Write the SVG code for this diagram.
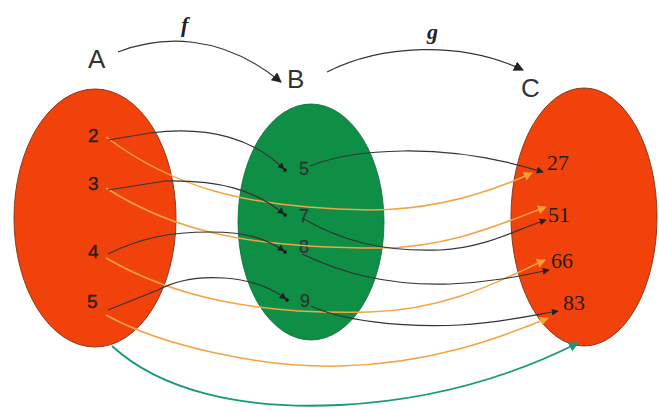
<svg xmlns="http://www.w3.org/2000/svg" width="659" height="411" viewBox="0 0 659 411">
<style>
.set-red{fill:#f2420c;stroke:#8a3a20;stroke-width:1}
.set-green{fill:#0e8f45;stroke:#0a6a35;stroke-width:0.8}
.lbl{font-family:"Liberation Sans",Arial,sans-serif;font-size:26px;fill:#333}
.fn{font-family:"Liberation Serif","Times New Roman",serif;font-style:italic;font-weight:bold;font-size:22px;fill:#222}
.na{font-family:"Liberation Sans",Arial,sans-serif;font-size:19px;fill:#2e1c0e;stroke:#2e1c0e;stroke-width:0.4}
.nb{font-family:"Liberation Sans",Arial,sans-serif;font-size:18px;fill:#2c3530;stroke:#2c3530;stroke-width:0.3}
.nc{font-family:"Liberation Serif","Times New Roman",serif;font-size:22px;fill:#2a1a10}
.dk{fill:none;stroke:#333;stroke-width:1.2}
.or{fill:none;stroke:#f3a446;stroke-width:1.5}
.gr{fill:none;stroke:#17997a;stroke-width:1.8}
.dot{fill:#111}
</style>
<defs>
<marker id="mk" viewBox="0 0 10 10" refX="9" refY="5" markerWidth="7" markerHeight="7" orient="auto" markerUnits="userSpaceOnUse"><path d="M0,0 L10,5 L0,10 z" fill="#222"/></marker>
<marker id="mkBig" viewBox="0 0 10 10" refX="9" refY="5" markerWidth="10" markerHeight="10" orient="auto" markerUnits="userSpaceOnUse"><path d="M0,0 L10,5 L0,10 z" fill="#222"/></marker>
<marker id="mo" viewBox="0 0 10 10" refX="9" refY="5" markerWidth="9" markerHeight="9" orient="auto" markerUnits="userSpaceOnUse"><path d="M0,0 L10,5 L0,10 z" fill="#f5a030"/></marker>
<marker id="mg" viewBox="0 0 10 10" refX="9" refY="5" markerWidth="10" markerHeight="10" orient="auto" markerUnits="userSpaceOnUse"><path d="M0,0 L10,5 L0,10 z" fill="#17997a"/></marker>
</defs>
<rect width="659" height="411" fill="#fff"/>

<g id="setA">
<ellipse class="set-red" cx="95" cy="218" rx="81" ry="129"/>
<text class="lbl" x="88" y="68">A</text>
<text class="na" x="88" y="142">2</text>
<text class="na" x="88" y="190">3</text>
<text class="na" x="88" y="258">4</text>
<text class="na" x="87" y="308">5</text>
</g>

<g id="setB">
<ellipse class="set-green" cx="311" cy="222" rx="73" ry="118"/>
<text class="lbl" x="287" y="88">B</text>
<circle class="dot" cx="285" cy="170" r="1.8"/><text class="nb" x="299" y="175">5</text>
<circle class="dot" cx="285" cy="215" r="1.8"/><text class="nb" x="299" y="222">7</text>
<circle class="dot" cx="285" cy="252" r="1.8"/><text class="nb" x="299" y="253">8</text>
<circle class="dot" cx="287" cy="300" r="1.8"/><text class="nb" x="300" y="307">9</text>
</g>

<g id="setC">
<ellipse class="set-red" cx="584" cy="217" rx="73" ry="129"/>
<text class="lbl" x="521" y="97">C</text>
<text class="nc" x="547" y="170">27</text>
<text class="nc" x="548" y="222">51</text>
<text class="nc" x="551" y="268">66</text>
<text class="nc" x="563" y="310">83</text>
</g>

<g id="labels">
<text class="fn" x="181" y="32">f</text>
<text class="fn" x="427" y="39">g</text>
</g>

<g id="connectors">
<path class="dk" d="M118,52 C160,36 220,32 281,82" marker-end="url(#mkBig)"/>
<path class="dk" d="M327,72 C380,45 460,40 523,70" marker-end="url(#mkBig)"/>

<path class="or" d="M106,137 C170,185 240,208 370,210 C440,210 495,190 532,173" marker-end="url(#mo)"/>
<path class="or" d="M106,188 C175,232 250,248 380,248 C450,248 505,222 546,207" marker-end="url(#mo)"/>
<path class="or" d="M106,258 C170,295 250,315 370,312 C450,310 505,278 545,260" marker-end="url(#mo)"/>
<path class="or" d="M106,315 C160,345 260,368 340,366 C430,364 500,338 548,318" marker-end="url(#mo)"/>

<path class="dk" d="M108,140 L150,133 C210,125 255,140 284,169" marker-end="url(#mk)"/>
<path class="dk" d="M108,190 L165,181 C220,180 255,190 284,214" marker-end="url(#mk)"/>
<path class="dk" d="M108,254 C140,238 170,232 210,232 C250,232 268,240 284,251" marker-end="url(#mk)"/>
<path class="dk" d="M108,310 L158,290 C195,270 255,275 286,299" marker-end="url(#mk)"/>

<path class="dk" d="M310,166 C350,150 440,140 543,172" marker-end="url(#mk)"/>
<path class="dk" d="M302,218 C340,240 380,252 440,250 C485,248 515,230 546,220" marker-end="url(#mk)"/>
<path class="dk" d="M302,254 C340,272 385,286 450,284 C495,282 525,275 549,270" marker-end="url(#mk)"/>
<path class="dk" d="M311,306 C340,320 400,328 460,325 C505,322 535,315 558,311" marker-end="url(#mk)"/>

<path class="gr" d="M112,346 C160,390 240,410 340,405 C440,400 520,372 578,343" marker-end="url(#mg)"/>
</g>
</svg>
